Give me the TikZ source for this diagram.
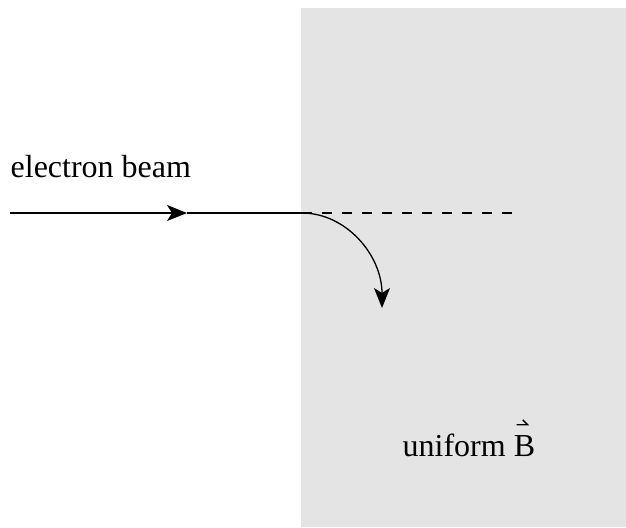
\documentclass[tikz,border=0pt]{standalone}
\usepackage{fontspec}
\setmainfont{Liberation Serif}
\usetikzlibrary{arrows.meta}
\definecolor{fieldgray}{RGB}{228,228,228}
\begin{document}
\begin{tikzpicture}[x=.5pt,y=-.5pt,line width=.65pt,
  txt/.style={inner sep=0pt,anchor=base west,font=\fontsize{16}{19}\selectfont},
  tip/.style={-{Stealth[length=10pt,width=8pt,inset=2.5pt]}}]
  \useasboundingbox (0,0) rectangle (626,527);
  % field region
  \fill[fieldgray] (301,8) rectangle (626,527);
  \coordinate (start) at (10,213);
  \coordinate (mid) at (187,213);
  \coordinate (edge) at (302,213);
  \coordinate (dashend) at (518,213);
  \coordinate (bent) at (382,308);
  \node[txt] (beamlabel) at (10,177) {electron beam};
  \node[txt] (fieldlabel) at (402,456) {uniform B};
  % beam
  \draw[tip] (start)--(mid);
  \draw (mid)--(edge);
  \draw[dash pattern=on 5pt off 5pt] (edge)--(dashend);
  \draw[tip] (edge) .. controls (346,213) and (382,255) .. (bent);
  % vector sign over B
  \draw[line width=.65pt] ([shift={(-19,-8)}]fieldlabel.north east)--++(11,0)--++(-5,-5);
\end{tikzpicture}
\end{document}
